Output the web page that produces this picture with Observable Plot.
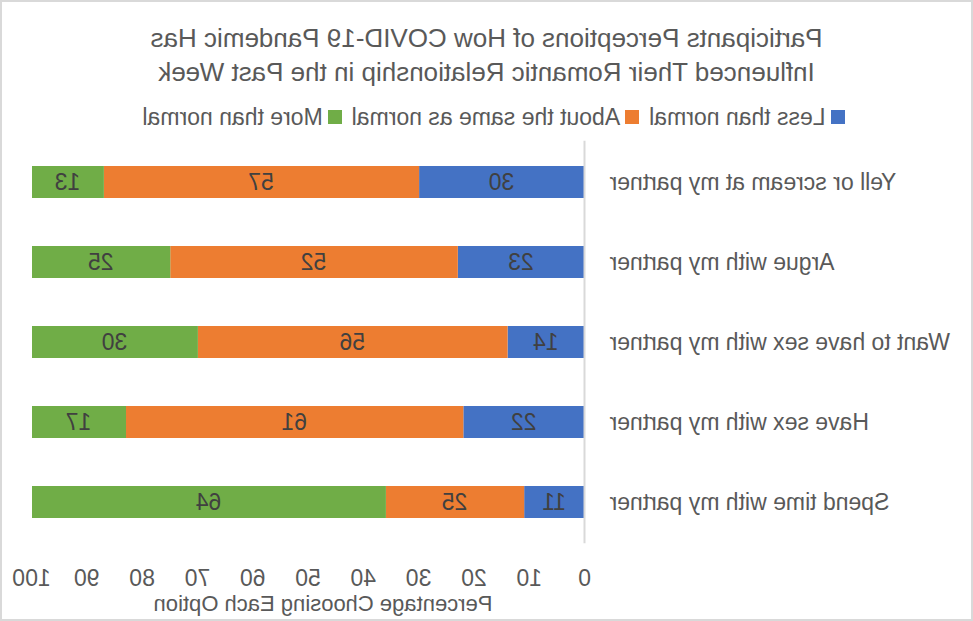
<!DOCTYPE html>
<html>
<head>
<meta charset="utf-8">
<script src="https://cdn.jsdelivr.net/npm/d3@7"></script>
<script src="https://cdn.jsdelivr.net/npm/@observablehq/plot@0.6"></script>
<style>
  html, body { margin: 0; padding: 0; background: #fff; }
  #chart {
    position: relative; width: 973px; height: 621px; box-sizing: border-box;
    transform: scaleX(-1); transform-origin: center; overflow: hidden;
    font-family: "Liberation Sans", Arial, sans-serif; color: #595959; background: #fff;
  }
  #chart::after {
    content: ""; position: absolute; inset: 0; border: 2px solid #d9d9d9; pointer-events: none;
  }
  #title { padding-top: 21px; text-align: center; font-size: 26px; line-height: 34px; height: 68px; }
  #legend { margin-top: 16px; height: 24px; display: flex; justify-content: center; align-items: center;
    font-size: 23px; line-height: 24px; padding-right: 14px; }
  #legend .item { display: flex; align-items: center; margin: 0 5px; white-space: nowrap; }
  #legend .sw { width: 14px; height: 14px; margin-right: 5px; }
  #caption { text-align: center; font-size: 22px; line-height: 24px; margin-top: 2px; padding-left: 359px; padding-right: 32px; white-space: nowrap; }
</style>
</head>
<body>
<div id="chart">
  <div id="title"></div>
  <div id="legend"></div>
  <div id="plot"></div>
  <div id="caption"></div>
</div>
<script>
const titleLines = ["Participants Perceptions of How COVID-19 Pandemic Has", "Influenced Their Romantic Relationship in the Past Week"];
const axisTitle = "Percentage Choosing Each Option";
const categories = ["Yell or scream at my partner", "Argue with my partner", "Want to have sex with my partner", "Have sex with my partner", "Spend time with my partner"];
const seriesNames = ["Less than normal", "About the same as normal", "More than normal"];
const seriesColors = ["#4472C4", "#ED7D31", "#70AD47"];
const lessThanNormal = [30, 23, 14, 22, 11];
const aboutTheSame = [57, 52, 56, 61, 25];
const moreThanNormal = [13, 25, 30, 17, 64];
const xTicks = [0, 10, 20, 30, 40, 50, 60, 70, 80, 90, 100];

const seriesValues = [lessThanNormal, aboutTheSame, moreThanNormal];
const rows = [];
categories.forEach((c, i) => {
  seriesNames.forEach((s, j) => rows.push({category: c, series: s, value: seriesValues[j][i]}));
});

document.getElementById("title").innerHTML = titleLines.join("<br>");
document.getElementById("caption").textContent = axisTitle;
const legend = document.getElementById("legend");
seriesNames.forEach((s, j) => {
  const it = document.createElement("div");
  it.className = "item";
  const sw = document.createElement("div");
  sw.className = "sw";
  sw.style.background = seriesColors[j];
  const t = document.createElement("span");
  t.textContent = s;
  it.appendChild(sw); it.appendChild(t);
  legend.appendChild(it);
});

const plot = Plot.plot({
  width: 973,
  height: 461,
  marginTop: 11.75,
  marginBottom: 46.75,
  marginLeft: 388,
  marginRight: 32,
  style: {background: "transparent", fontFamily: "'Liberation Sans', Arial, sans-serif", fontSize: "23px", color: "#595959"},
  x: {domain: [0, 100], ticks: xTicks, label: null},
  y: {domain: categories, padding: 0.6, paddingOuter: 0.3, label: null},
  color: {domain: seriesNames, range: seriesColors},
  marks: [
    Plot.barX(rows, Plot.stackX({x: "value", y: "category", fill: "series", z: "series", order: seriesNames})),
    Plot.text(rows, Plot.stackX({x: "value", y: "category", z: "series", order: seriesNames, text: d => String(d.value), fill: "#404040", fontSize: 23})),
    Plot.ruleX([0], {stroke: "#d9d9d9", strokeWidth: 2}),
    Plot.axisX({ticks: xTicks, tickSize: 0, tickPadding: 25.5, label: null, fill: "#595959", fontSize: 23}),
    Plot.axisY({tickSize: 0, tickPadding: 25, label: null, fill: "#595959", fontSize: 23})
  ]
});
document.getElementById("plot").appendChild(plot);
</script>
</body>
</html>
